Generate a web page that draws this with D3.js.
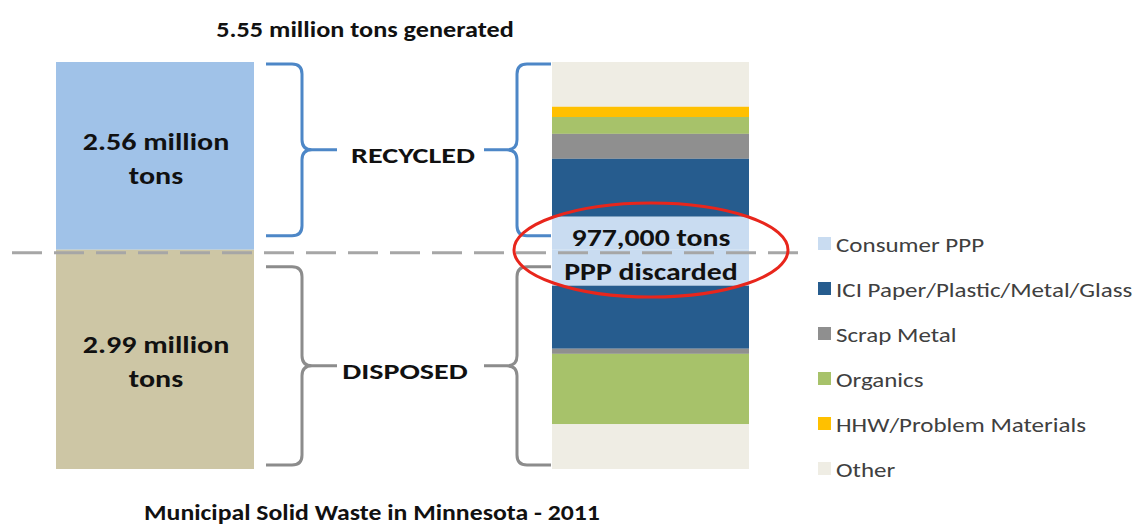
<!DOCTYPE html>
<html>
<head>
<meta charset="utf-8">
<script src="https://cdn.jsdelivr.net/npm/d3@7"></script>
<style>
  body { margin: 0; background: #fff; }
  text { font-family: Carlito, Calibri, Lato, sans-serif; }
</style>
</head>
<body>
<div id="main"></div>
<script>
// values in million tons
var totalTons = 5.55;
var groupLabels = ["RECYCLED", "DISPOSED"];
var groupValues = [2.56, 2.99];
var groupText = ["2.56 million", "2.99 million"];

// right bar, read top to bottom
var recycledCats = ["Other", "HHW/Problem Materials", "Organics", "Scrap Metal", "ICI Paper/Plastic/Metal/Glass", "Consumer PPP"];
var recycledVals = [0.61, 0.14, 0.23, 0.34, 0.79, 0.45];
var disposedCats = ["Consumer PPP", "ICI Paper/Plastic/Metal/Glass", "Scrap Metal", "Organics", "Other"];
var disposedVals = [0.49, 0.86, 0.07, 0.96, 0.61];

var legendCats = ["Consumer PPP", "ICI Paper/Plastic/Metal/Glass", "Scrap Metal", "Organics", "HHW/Problem Materials", "Other"];
var calloutLines = ["977,000 tons", "PPP discarded"];
var topTitle = "5.55 million tons generated";
var bottomTitle = "Municipal Solid Waste in Minnesota - 2011";

var width = 1133, height = 525;

var color = d3.scaleOrdinal()
    .domain(legendCats)
    .range(["#c9dcf1", "#265c8e", "#8f8f8f", "#a7c26a", "#ffc000", "#efede4"]);

var y = d3.scaleLinear()
    .domain([0, totalTons])
    .range([62, 469]);

var svg = d3.select("#main")
    .append("svg")
    .attr("width", width)
    .attr("height", height);

// the source text is wide (Calibri stretched), so widen each label a bit
function stretch(sel, k) {
    sel.each(function() {
        var len = this.getComputedTextLength();
        d3.select(this)
            .attr("textLength", len * k)
            .attr("lengthAdjust", "spacingAndGlyphs");
    });
}

// left bars (recycled / disposed)
var leftX = 56, leftW = 198;
var groupStart = [0, groupValues[0]];
var groupFill = ["#a0c2e8", "#cdc6a5"];

svg.selectAll("rect.group")
    .data(groupValues)
    .enter()
    .append("rect")
    .attr("class", "group")
    .attr("x", leftX)
    .attr("width", leftW)
    .attr("y", function(d, i) { return y(groupStart[i]); })
    .attr("height", function(d, i) { return y(groupStart[i] + d) - y(groupStart[i]); })
    .style("fill", function(d, i) { return groupFill[i]; });

groupValues.forEach(function(v, i) {
    var cy = (y(groupStart[i]) + y(groupStart[i] + v)) / 2;
    var lines = [groupText[i], "tons"];
    var t = svg.selectAll("text.amount" + i)
        .data(lines)
        .enter()
        .append("text")
        .attr("class", "amount" + i)
        .attr("x", leftX + leftW / 2 + 1)
        .attr("y", function(d, j) { return cy - 6 + j * 34; })
        .attr("text-anchor", "middle")
        .style("font-size", "25px")
        .style("font-weight", "bold")
        .style("fill", "#111")
        .text(function(d) { return d; });
    stretch(t, 1.2);
});

// right stacked bar
var rightX = 552, rightW = 197;
var segments = [];
var acc = 0;
recycledCats.forEach(function(c, i) {
    segments.push({cat: c, y0: acc, y1: acc + recycledVals[i]});
    acc += recycledVals[i];
});
disposedCats.forEach(function(c, i) {
    segments.push({cat: c, y0: acc, y1: acc + disposedVals[i]});
    acc += disposedVals[i];
});

svg.selectAll("rect.seg")
    .data(segments)
    .enter()
    .append("rect")
    .attr("class", "seg")
    .attr("x", rightX)
    .attr("width", rightW)
    .attr("y", function(d) { return y(d.y0); })
    .attr("height", function(d) { return y(d.y1) - y(d.y0); })
    .style("fill", function(d) { return color(d.cat); });

// curly braces, s = 1 points right "}", s = -1 points left "{"
function brace(xEdge, xSpine, xTip, y0, y1, s) {
    var r = 10, ym = (y0 + y1) / 2;
    return "M" + xEdge + "," + y0
        + "L" + (xSpine - s * r) + "," + y0
        + "Q" + xSpine + "," + y0 + " " + xSpine + "," + (y0 + r)
        + "L" + xSpine + "," + (ym - r)
        + "Q" + xSpine + "," + ym + " " + (xSpine + s * r) + "," + ym
        + "L" + xTip + "," + ym
        + "M" + (xSpine + s * r) + "," + ym
        + "Q" + xSpine + "," + ym + " " + xSpine + "," + (ym + r)
        + "L" + xSpine + "," + (y1 - r)
        + "Q" + xSpine + "," + y1 + " " + (xSpine - s * r) + "," + y1
        + "L" + xEdge + "," + y1;
}

var braceColor = ["#4d87c7", "#8c8c8c"];
var braceY = [
    [y(0) + 2, y(groupValues[0]) - 14],
    [y(groupValues[0]) + 17, y(totalTons) - 4]
];
var labelX = [413, 405];

groupLabels.forEach(function(label, i) {
    var y0 = braceY[i][0], y1 = braceY[i][1];
    svg.append("path")
        .attr("d", brace(266, 302, 337, y0, y1, 1))
        .style("fill", "none")
        .style("stroke", braceColor[i])
        .style("stroke-width", 3);
    svg.append("path")
        .attr("d", brace(551, 517, 484, y0, y1, -1))
        .style("fill", "none")
        .style("stroke", braceColor[i])
        .style("stroke-width", 3);
    var t = svg.append("text")
        .attr("x", labelX[i])
        .attr("y", (y0 + y1) / 2 + 13)
        .attr("text-anchor", "middle")
        .style("font-size", "23px")
        .style("font-weight", "bold")
        .style("fill", "#111")
        .text(label);
    stretch(t, 1.31);
});

// dashed divider
svg.append("line")
    .attr("x1", 12)
    .attr("x2", 806)
    .attr("y1", y(groupValues[0]) + 3)
    .attr("y2", y(groupValues[0]) + 3)
    .style("stroke", "#a6a6a6")
    .style("stroke-width", 3)
    .style("stroke-dasharray", "30,12");

// callout
svg.append("ellipse")
    .attr("cx", 651)
    .attr("cy", 250)
    .attr("rx", 137)
    .attr("ry", 47)
    .style("fill", "none")
    .style("stroke", "#e8261c")
    .style("stroke-width", 3);

var callout = svg.selectAll("text.callout")
    .data(calloutLines)
    .enter()
    .append("text")
    .attr("class", "callout")
    .attr("x", 651)
    .attr("y", function(d, i) { return 246 + i * 34; })
    .attr("text-anchor", "middle")
    .style("font-size", "24px")
    .style("font-weight", "bold")
    .style("fill", "#111")
    .text(function(d) { return d; });
stretch(callout, 1.24);

// legend
var legend = svg.selectAll("g.legend")
    .data(legendCats)
    .enter()
    .append("g")
    .attr("class", "legend")
    .attr("transform", function(d, i) { return "translate(818," + (245 + i * 45) + ")"; });

legend.append("rect")
    .attr("x", 0)
    .attr("y", -8)
    .attr("width", 13)
    .attr("height", 13)
    .style("fill", function(d) { return color(d); });

var legendText = legend.append("text")
    .attr("x", 18)
    .attr("y", 7)
    .style("font-size", "20px")
    .style("fill", "#404040")
    .text(function(d) { return d; });
stretch(legendText, 1.25);

// titles
var t1 = svg.append("text")
    .attr("x", 365)
    .attr("y", 37)
    .attr("text-anchor", "middle")
    .style("font-size", "23px")
    .style("font-weight", "bold")
    .style("fill", "#111")
    .text(topTitle);
stretch(t1, 1.14);

var t2 = svg.append("text")
    .attr("x", 372)
    .attr("y", 520)
    .attr("text-anchor", "middle")
    .style("font-size", "23px")
    .style("font-weight", "bold")
    .style("fill", "#111")
    .text(bottomTitle);
stretch(t2, 1.12);
</script>
</body>
</html>
